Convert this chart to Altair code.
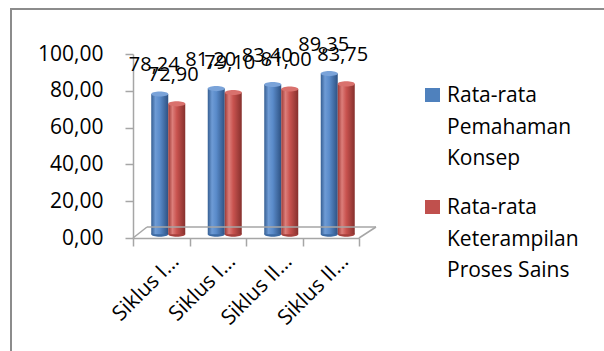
import altair as alt
import pandas as pd

categories = ["Siklus I Pertemuan 1", "Siklus I Pertemuan 2",
              "Siklus II Pertemuan 1", "Siklus II Pertemuan 2"]
series = ["Rata-rata Pemahaman Konsep", "Rata-rata Keterampilan Proses Sains"]
konsep = [78.24, 81.20, 83.40, 89.35]
kps = [72.90, 79.10, 81.00, 83.75]
y_ticks = [0, 20, 40, 60, 80, 100]
legend_lines = [["Rata-rata", "Pemahaman", "Konsep"],
                ["Rata-rata", "Keterampilan", "Proses Sains"]]

FONT = "Open Sans"
W, H = 226, 184
GRAY = "#A6A6A6"

df_k = pd.DataFrame({"cat": categories, "value": konsep, "series": series[0]})
df_p = pd.DataFrame({"cat": categories, "value": kps, "series": series[1]})

fmt = "replace(format(datum.value, '.2f'), '.', ',')"

x_axis = alt.Axis(
    title=None,
    labelExpr="datum.label ? split(datum.label, ' ')[0] + ' ' + split(datum.label, ' ')[1] + '…' : ''",
    labelAngle=-45, labelAlign="right", labelBaseline="middle",
    labelFont=FONT, labelFontSize=21, labelColor="#000000",
    labelOffset=14, labelPadding=12,
    tickBand="extent", tickSize=8, tickColor=GRAY, tickWidth=1.5,
    domainColor=GRAY, domainWidth=1.5, grid=False,
)
y_axis = alt.Axis(
    title=None, values=y_ticks, labelExpr=fmt,
    labelFont=FONT, labelFontSize=21, labelColor="#000000",
    labelPadding=22, tickSize=8, tickColor=GRAY, tickWidth=1.5,
    domainColor=GRAY, domainWidth=1.5, grid=False,
)
x_scale = alt.Scale(domain=categories, paddingInner=0, paddingOuter=0)
y_scale = alt.Scale(domain=[0, 100], nice=False)

XE = alt.X("cat:N", scale=x_scale, axis=x_axis)
YE = alt.Y("value:Q", scale=y_scale, axis=y_axis)


def grad(stops):
    return alt.LinearGradient(
        gradient="linear", x1=0, x2=1, y1=0, y2=0,
        stops=[alt.GradientStop(color=c, offset=o) for o, c in stops])


blue_grad = grad([(0, "#355E92"), (0.25, "#6E9BD5"), (0.5, "#5A8BCA"), (1, "#2E5283")])
red_grad = grad([(0, "#9C3936"), (0.25, "#DC7E7A"), (0.5, "#C9534F"), (1, "#86302D")])

ELLIPSE = "M-1,0 A1,0.3 0 1,0 1,0 A1,0.3 0 1,0 -1,0 Z"
BAR_W = 17


def bar_layers(df, gradient, cap_color, bottom_color, off, lab_off):
    base = alt.Chart(df).transform_calculate(base="2", label=fmt)
    bars = base.mark_bar(color=gradient, width=BAR_W, xOffset=off).encode(
        x=XE, y=YE, y2="base:Q")
    bottom = base.mark_point(shape=ELLIPSE, size=BAR_W ** 2, filled=True,
                             opacity=1, color=bottom_color, xOffset=off).encode(
        x=XE, y=alt.Y("base:Q", scale=y_scale, axis=y_axis))
    cap = base.mark_point(shape=ELLIPSE, size=BAR_W ** 2, filled=True,
                          opacity=1, color=cap_color, xOffset=off).encode(
        x=XE, y=YE)
    labels = base.mark_text(
        font=FONT, fontSize=20, color="#000000", baseline="middle",
        xOffset=lab_off, yOffset=-29).encode(x=XE, y=YE, text="label:N")
    return [bottom, bars, cap, labels]


one = alt.Data(values=[{}])

border = alt.Chart(one).mark_rect(fillOpacity=0, stroke="#8C8C8C", strokeWidth=2).encode(
    x=alt.value(-122), x2=alt.value(620), y=alt.value(-45), y2=alt.value(420))

floor = [
    alt.Chart(one).mark_rule(color=GRAY, strokeWidth=1.5).encode(
        x=alt.value(14), x2=alt.value(243), y=alt.value(173), y2=alt.value(173)),
    alt.Chart(one).mark_rule(color=GRAY, strokeWidth=1.5).encode(
        x=alt.value(0), x2=alt.value(14), y=alt.value(H), y2=alt.value(173)),
    alt.Chart(one).mark_rule(color=GRAY, strokeWidth=1.5).encode(
        x=alt.value(W), x2=alt.value(243), y=alt.value(H), y2=alt.value(173)),
]

leg_colors = ["#4F81BD", "#C0504D"]
leg_y = [34, 146]
legend = []
for i in range(2):
    legend.append(alt.Chart(one).mark_rect(color=leg_colors[i]).encode(
        x=alt.value(292), x2=alt.value(307),
        y=alt.value(leg_y[i]), y2=alt.value(leg_y[i] + 14)))
    legend.append(alt.Chart(one).mark_text(
        text=legend_lines[i], font=FONT, fontSize=21, color="#000000",
        align="left", baseline="alphabetic", lineHeight=31.5).encode(
        x=alt.value(314), y=alt.value(leg_y[i] + 14)))

layers = (bar_layers(df_k, blue_grad, "#7AA3D9", "#3C6AA3", -1.5, -7)
          + bar_layers(df_p, red_grad, "#D9716D", "#A6403D", 15.5, 12)
          + [border] + floor + legend)

chart = alt.layer(*layers).properties(
    width=W, height=H,
    autosize=alt.AutoSizeParams(type="none"),
    padding={"left": 133, "top": 54, "right": 245, "bottom": 113},
    background="white",
).configure_view(stroke=None)

chart.save("out.html", embed_options={"renderer": "svg", "actions": False})
